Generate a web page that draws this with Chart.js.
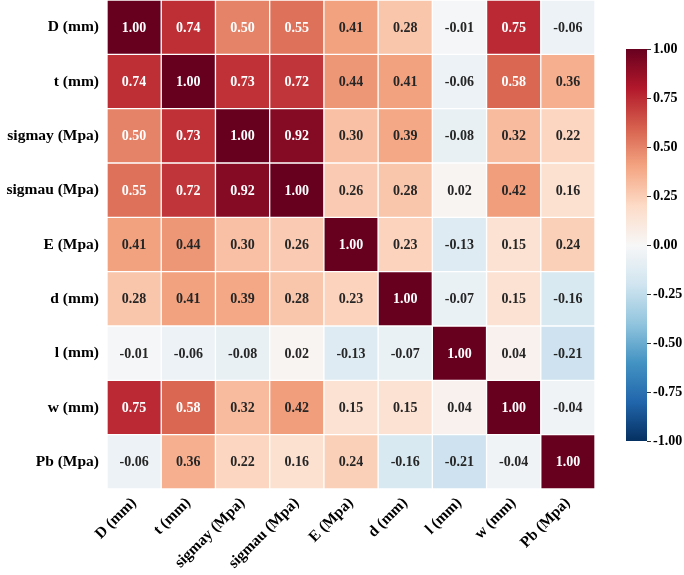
<!DOCTYPE html>
<html>
<head>
<meta charset="utf-8">
<script src="https://cdn.jsdelivr.net/npm/chart.js@4.4.0/dist/chart.umd.min.js"></script>
<style>
    html, body { margin: 0; padding: 0; background: #fff; }
    #wrap { position: relative; width: 684px; height: 575px; }
    #heat { position: absolute; left: 0; top: 0; }
    #bar { position: absolute; left: 600px; top: 0; }
</style>
</head>
<body>
<div id="wrap">
    <canvas id="heat" width="684" height="575"></canvas>
    <canvas id="bar" width="84" height="575"></canvas>
</div>
<script>
const varLabels = ['D (mm)', 't (mm)', 'sigmay (Mpa)', 'sigmau (Mpa)', 'E (Mpa)', 'd (mm)', 'l (mm)', 'w (mm)', 'Pb (Mpa)'];

const rowD      = [1.00, 0.74, 0.50, 0.55, 0.41, 0.28, -0.01, 0.75, -0.06];
const rowT      = [0.74, 1.00, 0.73, 0.72, 0.44, 0.41, -0.06, 0.58, 0.36];
const rowSigmay = [0.50, 0.73, 1.00, 0.92, 0.30, 0.39, -0.08, 0.32, 0.22];
const rowSigmau = [0.55, 0.72, 0.92, 1.00, 0.26, 0.28, 0.02, 0.42, 0.16];
const rowE      = [0.41, 0.44, 0.30, 0.26, 1.00, 0.23, -0.13, 0.15, 0.24];
const rowSmallD = [0.28, 0.41, 0.39, 0.28, 0.23, 1.00, -0.07, 0.15, -0.16];
const rowL      = [-0.01, -0.06, -0.08, 0.02, -0.13, -0.07, 1.00, 0.04, -0.21];
const rowW      = [0.75, 0.58, 0.32, 0.42, 0.15, 0.15, 0.04, 1.00, -0.04];
const rowPb     = [-0.06, 0.36, 0.22, 0.16, 0.24, -0.16, -0.21, -0.04, 1.00];

const matrix = [rowD, rowT, rowSigmay, rowSigmau, rowE, rowSmallD, rowL, rowW, rowPb];

const cbTicks = [-1, -0.75, -0.5, -0.25, 0, 0.25, 0.5, 0.75, 1];

// RdBu_r, from -1 to 1
const rdbu = ['#053061', '#2166ac', '#4393c3', '#92c5de', '#d1e5f0', '#f7f7f7',
              '#fddbc7', '#f4a582', '#d6604d', '#b2182b', '#67001f'];

function hexRgb(h) {
    return [1, 3, 5].map(i => parseInt(h.slice(i, i + 2), 16));
}

function cmap(v) {
    let t = (v + 1) / 2 * 10;
    let i = Math.min(Math.floor(t), 9);
    let f = t - i;
    const a = hexRgb(rdbu[i]), b = hexRgb(rdbu[i + 1]);
    return a.map((c, k) => Math.round(c + (b[k] - c) * f));
}

function colorOf(v) {
    const c = cmap(v);
    return `rgb(${c[0]}, ${c[1]}, ${c[2]})`;
}

// same rule as seaborn's annotation colour
function textColor(v) {
    const lin = cmap(v).map(c => {
        c = c / 255;
        return c <= 0.03928 ? c / 12.92 : Math.pow((c + 0.055) / 1.055, 2.4);
    });
    const lum = 0.2126 * lin[0] + 0.7152 * lin[1] + 0.0722 * lin[2];
    return lum > 0.408 ? '#262626' : '#ffffff';
}

const serif = '"Liberation Serif", "Times New Roman", serif';

const cellText = {
    id: 'cellText',
    afterDatasetsDraw(chart) {
        const ctx = chart.ctx;
        ctx.save();
        ctx.font = `bold 14px ${serif}`;
        ctx.textAlign = 'center';
        ctx.textBaseline = 'middle';
        chart.data.datasets.forEach((ds, i) => {
            chart.getDatasetMeta(i).data.forEach((bar, j) => {
                const v = matrix[i][j];
                const p = bar.getCenterPoint();
                ctx.fillStyle = textColor(v);
                ctx.fillText(v.toFixed(2), p.x, p.y + 1);
            });
        });
        ctx.restore();
    }
};

new Chart(document.getElementById('heat').getContext('2d'), {
    type: 'bar',
    data: {
        labels: varLabels,
        datasets: matrix.map((row, i) => ({
            label: varLabels[i],
            data: row.map(() => 1),
            backgroundColor: row.map(colorOf),
            borderColor: '#ffffff',
            borderWidth: 1,
            borderSkipped: false,
            barPercentage: 1,
            categoryPercentage: 1,
            yAxisID: 'y'
        }))
    },
    options: {
        responsive: false,
        animation: false,
        layout: { padding: { top: 0, right: 89, left: 0, bottom: 0 } },
        plugins: {
            legend: { display: false },
            tooltip: { enabled: false }
        },
        scales: {
            x: {
                stacked: true,
                grid: { display: false, drawTicks: false },
                border: { display: false },
                afterFit(scale) {
                    scale.height = 86;
                    scale.paddingLeft = 0;
                    scale.paddingRight = 0;
                },
                ticks: {
                    color: '#000',
                    font: { family: serif, size: 15.5, weight: 'bold' },
                    maxRotation: 45,
                    minRotation: 45,
                    autoSkip: false,
                    padding: 5
                }
            },
            y: {
                stacked: true,
                reverse: true,
                min: 0,
                max: 9,
                display: false
            },
            rows: {
                type: 'category',
                labels: varLabels,
                position: 'left',
                offset: true,
                grid: { display: false, drawTicks: false },
                border: { display: false },
                afterFit(scale) {
                    scale.width = 107;
                    scale.paddingTop = 0;
                    scale.paddingBottom = 0;
                },
                ticks: {
                    color: '#000',
                    font: { family: serif, size: 15.5, weight: 'bold' },
                    padding: 8
                }
            }
        }
    },
    plugins: [cellText]
});

new Chart(document.getElementById('bar').getContext('2d'), {
    type: 'bar',
    data: {
        labels: ['cb'],
        datasets: [{
            data: [[-1, 1]],
            backgroundColor(c) {
                const area = c.chart.chartArea;
                if (!area) return null;
                const g = c.chart.ctx.createLinearGradient(0, area.bottom, 0, area.top);
                rdbu.forEach((col, i) => g.addColorStop(i / 10, col));
                return g;
            },
            borderWidth: 0,
            barPercentage: 1,
            categoryPercentage: 1
        }]
    },
    options: {
        responsive: false,
        animation: false,
        layout: { padding: { top: 49, left: 26, bottom: 134, right: 0 } },
        plugins: {
            legend: { display: false },
            tooltip: { enabled: false }
        },
        scales: {
            x: { display: false },
            y: {
                position: 'right',
                min: -1,
                max: 1,
                afterBuildTicks(scale) { scale.ticks = cbTicks.map(v => ({ value: v })); },
                afterFit(scale) { scale.width = 37; },
                grid: { drawOnChartArea: false, tickLength: 4, tickColor: '#333' },
                border: { display: false },
                ticks: {
                    color: '#000',
                    padding: 2,
                    font: { family: serif, size: 14, weight: 'bold' },
                    callback: v => v.toFixed(2)
                }
            }
        }
    }
});
</script>
</body>
</html>
